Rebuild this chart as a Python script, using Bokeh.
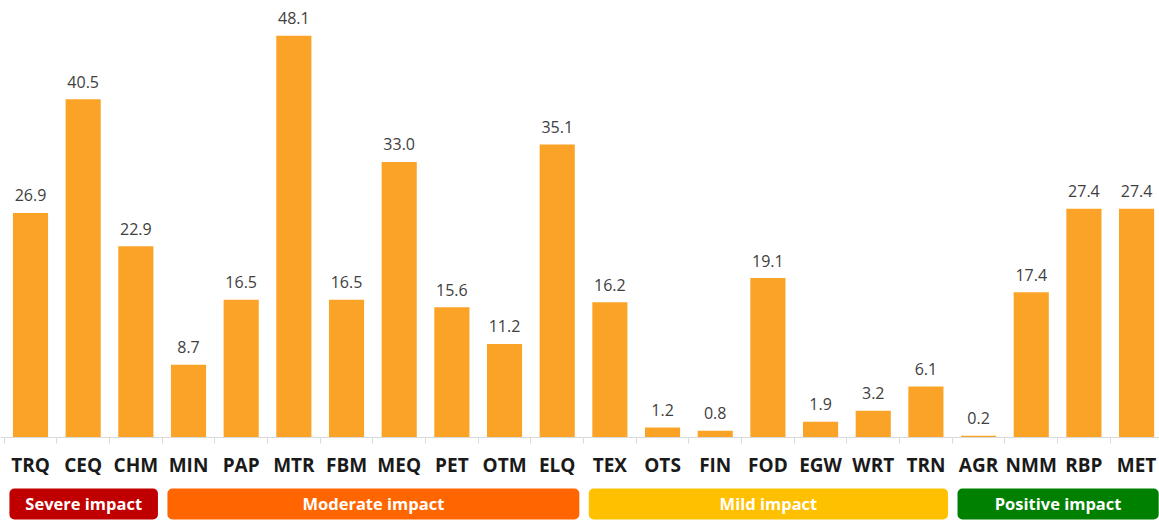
from bokeh.plotting import figure
from bokeh.models import ColumnDataSource, Range1d, FixedTicker
from bokeh.core.properties import value
from bokeh.embed import file_html
from bokeh.resources import INLINE

# ---- data ----
sectors = ["TRQ", "CEQ", "CHM", "MIN", "PAP", "MTR", "FBM", "MEQ", "PET", "OTM", "ELQ",
           "TEX", "OTS", "FIN", "FOD", "EGW", "WRT", "TRN", "AGR", "NMM", "RBP", "MET"]
impact = [26.9, 40.5, 22.9, 8.7, 16.5, 48.1, 16.5, 33.0, 15.6, 11.2, 35.1,
          16.2, 1.2, 0.8, 19.1, 1.9, 3.2, 6.1, 0.2, 17.4, 27.4, 27.4]
group_names = ["Severe impact", "Moderate impact", "Mild impact", "Positive impact"]
group_sizes = [3, 8, 7, 4]
group_colors = ["#C00000", "#FF6600", "#FFC000", "#008000"]

BAR_COLOR = "#FBA327"
FONT = "Open Sans"

xs = list(range(len(sectors)))
src = ColumnDataSource(dict(x=xs, top=impact, label=[f"{v:.1f}" for v in impact]))

p = figure(width=1159, height=520,
           x_range=Range1d(-0.5696, 21.435), y_range=Range1d(-9.94, 52.335),
           output_backend="svg", toolbar_location=None, min_border=0,
           y_axis_location=None)
p.grid.visible = False
p.outline_line_color = None

p.vbar(x="x", top="top", bottom=0, width=0.667, source=src,
       fill_color=BAR_COLOR, line_color=None)
p.text(x="x", y="top", text="label", source=src, text_align="center",
       text_baseline="alphabetic", y_offset=-17.5, text_font=value(FONT),
       text_font_size="16px", text_color="#404040")

ax = p.xaxis[0]
ax.fixed_location = 0
ax.ticker = FixedTicker(ticks=xs, minor_ticks=[i - 0.5 for i in range(len(sectors) + 1)])
ax.major_label_overrides = {i: s for i, s in enumerate(sectors)}
ax.axis_line_color = "#D9D9D9"
ax.major_tick_line_color = None
ax.major_tick_out = 0
ax.major_tick_in = 0
ax.minor_tick_line_color = "#D9D9D9"
ax.minor_tick_out = 6
ax.minor_tick_in = 0
ax.major_label_text_font = FONT
ax.major_label_text_font_style = "bold"
ax.major_label_text_font_size = "19px"
ax.major_label_text_color = "#1A1A1A"
ax.major_label_standoff = 8

# group boxes
inset_left = 0.1
inset_right = 0.08
lefts, rights, centers = [], [], []
start = 0
for n in group_sizes:
    l = start - 0.5 + inset_left
    r = start + n - 0.5 - inset_right
    lefts.append(l)
    rights.append(r)
    centers.append((l + r) / 2)
    start += n

gsrc = ColumnDataSource(dict(left=lefts, right=rights, cx=centers,
                             name=group_names, color=group_colors))
p.quad(left="left", right="right", top=-6.108, bottom=-9.82, source=gsrc,
       fill_color="color", line_color=None, border_radius=5)
p.text(x="cx", y=-7.96, text="name", source=gsrc, text_align="center",
       text_baseline="middle", text_font=value(FONT), text_font_style="bold",
       text_font_size="16.5px", text_color="white")

open("out.html", "w").write(file_html(p, INLINE))
